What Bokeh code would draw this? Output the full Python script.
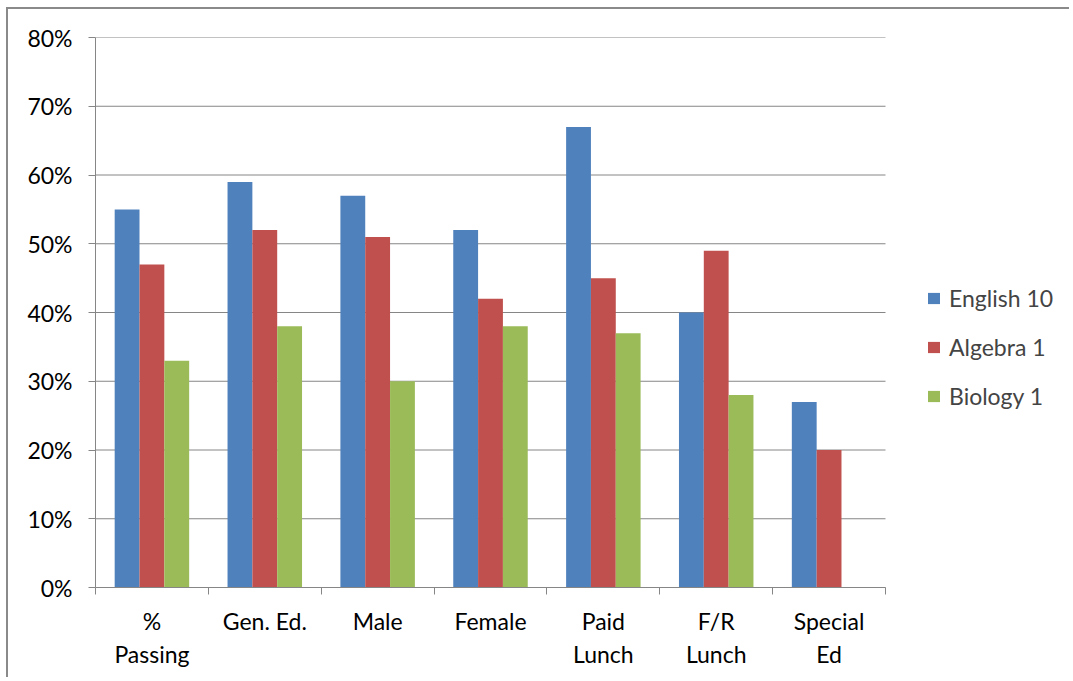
from bokeh.plotting import figure
from bokeh.models import FixedTicker, NumeralTickFormatter, Legend, LegendItem, ColumnDataSource, Range1d
from bokeh.embed import file_html
from bokeh.resources import INLINE

categories = ["%\nPassing", "Gen. Ed.", "Male", "Female", "Paid\nLunch", "F/R\nLunch", "Special\nEd"]
english10 = [0.55, 0.59, 0.57, 0.52, 0.67, 0.40, 0.27]
algebra1 = [0.47, 0.52, 0.51, 0.42, 0.45, 0.49, 0.20]
biology1 = [0.33, 0.38, 0.30, 0.38, 0.37, 0.28, 0.0]
series_names = ["English 10", "Algebra 1", "Biology 1"]
colors = ["#4F81BD", "#C0504D", "#9BBB59"]
yticks = [0.0, 0.1, 0.2, 0.3, 0.4, 0.5, 0.6, 0.7, 0.8]

FONT = "Lato"
FS = "23px"
GRAY = "#868686"

ncat = len(categories)
W, H = 1063, 670
left, right = 87, 0
frame_w = W - left - right
x_end = frame_w / 790 * ncat  # frame extends to hold the legend on the right

p = figure(width=W, height=H, output_backend="svg", toolbar_location=None,
           x_range=Range1d(0, x_end), y_range=Range1d(0, 0.8),
           min_border_left=left, min_border_right=right, min_border_top=28, min_border_bottom=92,
           styles={"border-top": "2px solid #8a8a8a", "border-left": "2px solid #8a8a8a",
                   "margin-left": "6px", "margin-top": "7px"})
p.outline_line_color = None
p.background_fill_color = "white"
p.border_fill_color = "white"

# gridlines limited to the category span
p.segment(x0=[0] * len(yticks), x1=[ncat] * len(yticks), y0=yticks, y1=yticks,
          line_color=GRAY, line_width=1)

centers = [i + 0.5 for i in range(ncat)]
bw = 0.22
renderers = []
for k, (vals, c) in enumerate(zip([english10, algebra1, biology1], colors)):
    xs = [x + (k - 1) * bw for x in centers]
    src = ColumnDataSource(dict(x=xs, top=vals))
    r = p.vbar(x="x", top="top", width=bw, source=src, fill_color=c, line_color=None)
    renderers.append(r)

# axes
p.xaxis.bounds = (0, ncat)
p.xaxis.ticker = FixedTicker(ticks=centers, minor_ticks=list(range(ncat + 1)))
p.xaxis.major_label_overrides = {c: lab for c, lab in zip(centers, categories)}
p.xaxis.major_tick_out = 0
p.xaxis.major_tick_in = 0
p.xaxis.minor_tick_out = 7
p.xaxis.minor_tick_in = 0
p.xaxis.minor_tick_line_color = GRAY
p.xaxis.axis_line_color = GRAY
p.xaxis.major_label_text_font = FONT
p.xaxis.major_label_text_font_size = FS
p.xaxis.major_label_text_color = "#000000"
p.xaxis.major_label_standoff = 12
p.xgrid.grid_line_color = None

p.yaxis.ticker = FixedTicker(ticks=yticks, minor_ticks=[])
p.yaxis.formatter = NumeralTickFormatter(format="0%")
p.yaxis.major_tick_out = 7
p.yaxis.major_tick_in = 0
p.yaxis.minor_tick_out = 0
p.yaxis.major_tick_line_color = GRAY
p.yaxis.axis_line_color = GRAY
p.yaxis.major_label_text_font = FONT
p.yaxis.major_label_text_font_size = FS
p.yaxis.major_label_text_color = "#000000"
p.yaxis.major_label_standoff = 16
p.ygrid.grid_line_color = None

legend = Legend(items=[LegendItem(label=n, renderers=[r]) for n, r in zip(series_names, renderers)],
                location=(831, 177), orientation="vertical")
legend.glyph_width = 15
legend.glyph_height = 14
legend.label_height = 20
legend.spacing = 21
legend.padding = 0
legend.margin = 0
legend.label_standoff = 8
legend.label_text_font = FONT
legend.label_text_font_size = FS
legend.border_line_color = None
legend.background_fill_alpha = 0
p.add_layout(legend, "center")

open("out.html", "w").write(file_html(p, INLINE))
